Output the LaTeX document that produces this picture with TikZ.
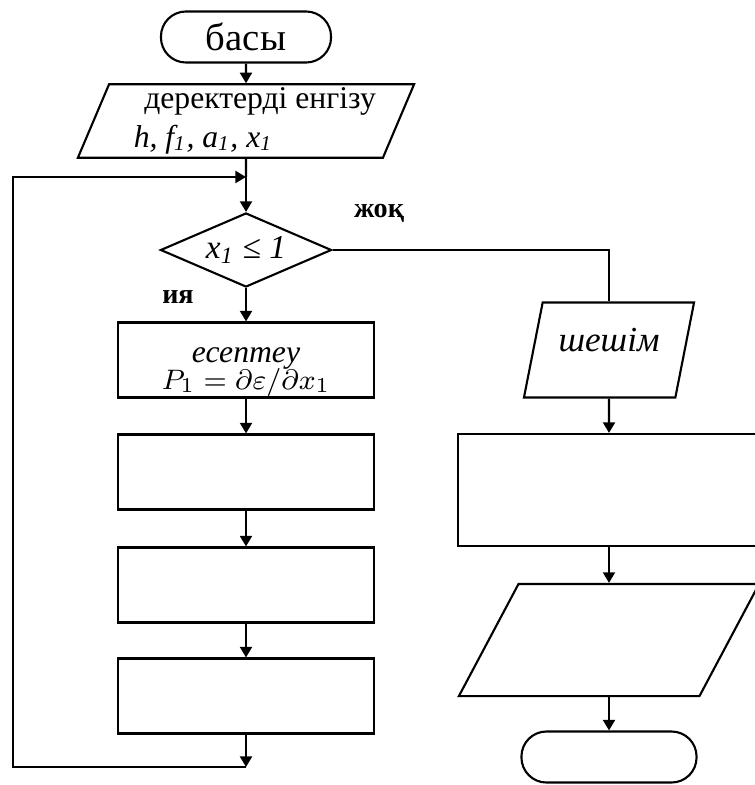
\documentclass[tikz,border=0pt]{standalone}
\usepackage{fontspec}
\setmainfont{Liberation Serif}
\usetikzlibrary{shapes.geometric,arrows.meta}

\tikzset{
    term/.style={draw,rounded corners=0.25cm,minimum width=1.7cm,minimum height=0.51cm,inner sep=0pt},
    procbox/.style={draw,minimum width=2.55cm,minimum height=0.75cm,inner sep=1pt,align=center},
    iobox/.style={draw,trapezium,trapezium left angle=#1,trapezium right angle=180-#1,
        trapezium stretches body,inner sep=1pt,align=center},
    cond/.style={draw,diamond,aspect=2.3,minimum width=1.71cm,minimum height=0.74cm,inner sep=0pt},
    lbl/.style={font=\bfseries\fontsize{8}{9}\selectfont}
}

\begin{document}
\begin{tikzpicture}[x=0.01cm,y=-0.01cm,semithick,>={Triangle[length=3pt,width=3.4pt]},
    font=\fontsize{9}{11}\selectfont]
    \useasboundingbox (0,0) rectangle (755,785);

    % main column
    \node[term,font=\fontsize{11}{13}\selectfont] (start) at (246,37) {басы};
    \node[iobox=67,minimum width=3.36cm,minimum height=0.72cm,align=left] (input) at (246,121)
        {\hspace*{8pt}деректерді енгізу\\ \hspace*{5pt}\textit{h, f\textsubscript{1}, a\textsubscript{1}, x\textsubscript{1}}};
    \coordinate (join) at (246,177);
    \node[cond,font=\fontsize{9.5}{11}\selectfont] (check) at (246,250) {\textit{x\textsubscript{1} ≤ 1}};
    \node[procbox,inner ysep=0pt] (calc) at (246,360)
        {\rule{0pt}{11pt}\textit{есептеу}\\[-3.5pt]{\fontsize{8.5}{10}\selectfont$P_1=\partial\varepsilon/\partial x_1$}};
    \node[procbox] (stepA) at (246,472) {};
    \node[procbox] (stepB) at (246,585) {};
    \node[procbox] (stepC) at (246,696) {};
    \coordinate (loopend) at (246,767);
    \coordinate (turnA) at (13,767);
    \coordinate (turnB) at (13,177);

    % right column
    \node[iobox=70,minimum width=1.7cm,minimum height=0.95cm,font=\fontsize{10}{12}\selectfont] (result) at (609,350)
        {\textit{шешім}\rule[-6pt]{0pt}{6pt}};
    \node[procbox,minimum width=3.02cm,minimum height=1.12cm] (rbox) at (609,490) {};
    \node[iobox=62,minimum width=3.0cm,minimum height=1.12cm] (output) at (609,640) {\rule{0pt}{1.05cm}};
    \node[term,minimum width=1.75cm] (stop) at (609,757) {};

    % labels
    \node[lbl] (no) at (379,213) {жоқ};
    \node[lbl] (yes) at (178,297) {ия};

    % connectors
    \draw[->] (start) -- (input);
    \draw (input) -- (join);
    \draw[->] (join) -- (check);
    \draw[->] (check) -- (calc);
    \draw[->] (calc) -- (stepA);
    \draw[->] (stepA) -- (stepB);
    \draw[->] (stepB) -- (stepC);
    \draw[->] (stepC) -- (loopend);
    \draw[->] (loopend) -- (turnA) -- (turnB) -- (join);
    \draw (check) -| (result);
    \draw[->] (result) -- (rbox);
    \draw[->] (rbox) -- (output);
    \draw[->] (output) -- (stop);
\end{tikzpicture}
\end{document}
